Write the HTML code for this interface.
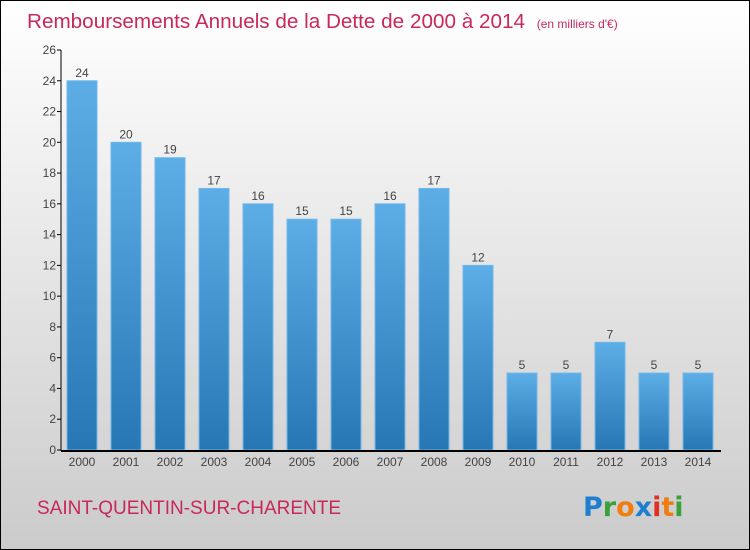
<!DOCTYPE html>
<html><head><meta charset="utf-8"><style>
body{margin:0}
svg{display:block;font-family:"Liberation Sans",sans-serif}
</style></head><body>
<svg id="c" width="750" height="550" viewBox="0 0 750 550">
<defs>
<linearGradient id="bg" x1="0" y1="0" x2="0" y2="1"><stop offset="0" stop-color="#ffffff"/><stop offset="1" stop-color="#cbcbcb"/></linearGradient>
<linearGradient id="bar" x1="0" y1="0" x2="0" y2="1"><stop offset="0" stop-color="#5dade6"/><stop offset="1" stop-color="#2677b4"/></linearGradient>
</defs>
<rect x="0.5" y="0.5" width="749" height="549" fill="url(#bg)" stroke="#000"/>
<text x="27" y="28" font-size="20.7" fill="#c8285a">Remboursements Annuels de la Dette de 2000 à 2014 <tspan font-size="12" dx="6">(en milliers d'€)</tspan></text>
<g id="yaxis"></g><g id="bars"></g><g id="xaxis"></g>
<line x1="61" y1="50" x2="61" y2="451" stroke="#000"/>
<line x1="61" y1="451" x2="721" y2="451" stroke="#000" stroke-width="2"/>
<text x="37" y="514" font-size="19" fill="#c8285a">SAINT-QUENTIN-SUR-CHARENTE</text>
<text x="583" y="516" font-size="27" font-family="DejaVu Sans" font-weight="bold"><tspan fill="#1e7fd0">P</tspan><tspan fill="#3aa13a">r</tspan><tspan fill="#f07d10">o</tspan><tspan fill="#1e7fd0">x</tspan><tspan fill="#e03020">i</tspan><tspan fill="#f07d10">t</tspan><tspan fill="#3aa13a">i</tspan></text>
</svg>
<script>
const years=["2000","2001","2002","2003","2004","2005","2006","2007","2008","2009","2010","2011","2012","2013","2014"];
const values=[24,20,19,17,16,15,15,16,17,12,5,5,7,5,5];
const yTicks=[0,2,4,6,8,10,12,14,16,18,20,22,24,26];
const NS="http://www.w3.org/2000/svg";
const y=v=>450-v*400/26;
const x=i=>82+i*44;
function mk(t,a,p,txt){const e=document.createElementNS(NS,t);for(const k in a)e.setAttribute(k,a[k]);if(txt!==undefined)e.textContent=txt;document.getElementById(p).appendChild(e);return e;}
yTicks.forEach(v=>{
 const l=mk("line",{x1:57,x2:61,y1:y(v),y2:y(v),stroke:"#000"},"yaxis");
 
 
 const t=mk("text",{x:56,y:y(v)+4,"font-size":12,fill:"#444","text-anchor":"end"},"yaxis",v);
 
 
});
values.forEach((v,i)=>{
 const r=mk("rect",{x:x(i)-15,y:y(v),width:30,height:450-y(v),fill:"url(#bar)",stroke:"#6fb8ea","stroke-width":1},"bars");
 
 
 const t=mk("text",{x:x(i),y:y(v)-4,"font-size":12,fill:"#444","text-anchor":"middle"},"bars",v);
 
 
 const xl=mk("text",{x:x(i),y:466,"font-size":12,fill:"#444","text-anchor":"middle"},"xaxis",years[i]);
 
 
});
</script>
</body></html>
